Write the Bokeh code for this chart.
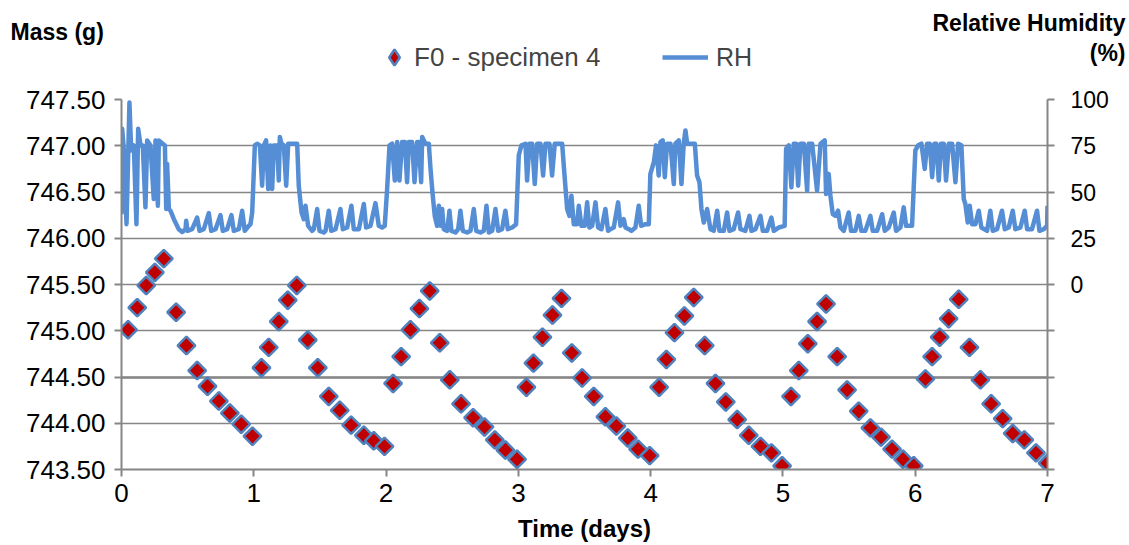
from bokeh.plotting import figure
from bokeh.layouts import column
from bokeh.models import (Range1d, LinearAxis, FixedTicker, NumeralTickFormatter,
                          CustomJSTickFormatter, Label, Legend, LegendItem, Grid,
                          ColumnDataSource)
from bokeh.embed import file_html
from bokeh.resources import INLINE
import math

# ---------------- data ----------------
mass_t = [0.050, 0.119, 0.187, 0.252, 0.320, 0.413, 0.491, 0.572, 0.650, 0.736, 0.819, 0.905, 0.990,
          1.058, 1.113, 1.189, 1.257, 1.325, 1.408, 1.484, 1.567, 1.650, 1.736, 1.832, 1.907, 1.988,
          2.053, 2.114, 2.184, 2.252, 2.330, 2.406, 2.482, 2.567, 2.658, 2.744, 2.822, 2.902, 2.990,
          3.061, 3.114, 3.182, 3.258, 3.326, 3.404, 3.482, 3.570, 3.658, 3.741, 3.827, 3.905, 3.993,
          4.064, 4.119, 4.180, 4.255, 4.326, 4.409, 4.490, 4.568, 4.654, 4.742, 4.830, 4.913, 4.994,
          5.061, 5.120, 5.188, 5.258, 5.326, 5.410, 5.485, 5.573, 5.661, 5.742, 5.825, 5.908, 5.989,
          6.077, 6.128, 6.185, 6.253, 6.329, 6.410, 6.493, 6.574, 6.661, 6.737, 6.825, 6.913, 7.000]
mass_g = [745.01, 745.25, 745.49, 745.63, 745.78, 745.20, 744.84, 744.57, 744.40, 744.24, 744.11, 743.99, 743.86,
          744.60, 744.82, 745.10, 745.33, 745.49, 744.90, 744.60, 744.29, 744.14, 743.98, 743.87, 743.81, 743.75,
          744.43, 744.72, 745.01, 745.24, 745.43, 744.87, 744.47, 744.21, 744.06, 743.96, 743.82, 743.71, 743.61,
          744.39, 744.65, 744.93, 745.17, 745.35, 744.76, 744.49, 744.29, 744.07, 743.97, 743.84, 743.72, 743.65,
          744.39, 744.69, 744.98, 745.16, 745.36, 744.84, 744.43, 744.23, 744.04, 743.87, 743.75, 743.68, 743.54,
          744.29, 744.57, 744.86, 745.10, 745.29, 744.72, 744.36, 744.13, 743.95, 743.85, 743.72, 743.61, 743.54,
          744.48, 744.72, 744.93, 745.13, 745.34, 744.82, 744.47, 744.21, 744.05, 743.89, 743.82, 743.68, 743.57]

# RH readings (time in days, RH in %), one list per day
rh_day0 = [(0.000, 38.0), (0.005, 84.2), (0.018, 72.5), (0.038, 32.6), (0.060, 98.4), (0.073, 72.5),
           (0.093, 75.2), (0.113, 32.6), (0.126, 84.2), (0.144, 75.2), (0.161, 75.2), (0.181, 41.7),
           (0.194, 77.9), (0.219, 75.2), (0.244, 46.2), (0.257, 77.9), (0.275, 42.6), (0.282, 77.9),
           (0.328, 75.2), (0.338, 40.8), (0.345, 65.2), (0.358, 40.8), (0.370, 39.9), (0.396, 35.3),
           (0.433, 29.9), (0.459, 28.4), (0.484, 29.9), (0.489, 34.4), (0.499, 29.0), (0.534, 29.9),
           (0.572, 36.2), (0.590, 29.0), (0.622, 29.9), (0.660, 38.6), (0.678, 29.0), (0.711, 29.9),
           (0.748, 37.5), (0.766, 29.0), (0.799, 29.9), (0.831, 37.5), (0.849, 29.0), (0.887, 29.9),
           (0.912, 39.9), (0.932, 29.0), (0.962, 31.7), (0.975, 32.6), (0.988, 38.9)]
rh_day1 = [(1.008, 75.2), (1.025, 76.1), (1.046, 75.2), (1.063, 53.4), (1.076, 75.2), (1.093, 77.9),
           (1.109, 51.6), (1.126, 75.2), (1.139, 51.6), (1.151, 75.2), (1.177, 75.2), (1.189, 56.2),
           (1.197, 79.7), (1.209, 76.1), (1.227, 75.2), (1.245, 53.4), (1.260, 76.1), (1.290, 76.1),
           (1.328, 76.1), (1.340, 53.4), (1.361, 38.9), (1.378, 35.3), (1.391, 42.6), (1.411, 31.7),
           (1.441, 29.0), (1.454, 29.9), (1.479, 40.8), (1.497, 29.0), (1.529, 28.1), (1.542, 29.0),
           (1.567, 39.9), (1.585, 29.0), (1.618, 29.9), (1.655, 40.8), (1.673, 29.9), (1.706, 30.8),
           (1.738, 42.6), (1.756, 29.9), (1.794, 29.9), (1.832, 43.5), (1.849, 30.8), (1.882, 31.7),
           (1.920, 44.0), (1.945, 31.7), (1.970, 30.8), (1.990, 31.7)]
rh_day2 = [(2.008, 51.6), (2.026, 75.2), (2.046, 76.1), (2.066, 56.2), (2.084, 77.0), (2.101, 56.2),
           (2.121, 77.0), (2.142, 77.0), (2.159, 55.3), (2.172, 77.0), (2.197, 77.0), (2.215, 55.3),
           (2.235, 77.0), (2.247, 77.0), (2.265, 55.3), (2.273, 79.7), (2.298, 76.1), (2.323, 76.1),
           (2.336, 62.5), (2.353, 48.0), (2.368, 37.1), (2.386, 31.7), (2.399, 42.6), (2.411, 31.7),
           (2.424, 40.8), (2.436, 29.9), (2.462, 29.0), (2.479, 39.9), (2.494, 29.0), (2.525, 28.1),
           (2.545, 29.9), (2.562, 39.9), (2.580, 29.0), (2.613, 28.1), (2.638, 29.0), (2.663, 40.8),
           (2.681, 29.0), (2.714, 28.1), (2.739, 29.0), (2.759, 42.6), (2.777, 28.1), (2.802, 29.0),
           (2.827, 40.8), (2.847, 29.0), (2.877, 29.9), (2.902, 39.9), (2.920, 29.9), (2.953, 30.8),
           (2.983, 32.6)]
rh_day3 = [(3.003, 69.7), (3.023, 75.2), (3.054, 76.1), (3.066, 56.2), (3.084, 76.1), (3.104, 76.1),
           (3.124, 54.3), (3.142, 76.1), (3.167, 76.1), (3.187, 58.9), (3.205, 76.1), (3.235, 76.1),
           (3.255, 58.9), (3.275, 76.1), (3.331, 76.1), (3.351, 57.1), (3.369, 40.8), (3.386, 37.1),
           (3.401, 48.0), (3.419, 32.6), (3.444, 32.6), (3.457, 42.6), (3.477, 31.7), (3.502, 31.7),
           (3.520, 44.4), (3.537, 30.8), (3.558, 31.7), (3.583, 44.4), (3.603, 30.8), (3.628, 29.9),
           (3.658, 40.8), (3.678, 29.0), (3.696, 29.9), (3.721, 30.8), (3.754, 44.4), (3.772, 31.7),
           (3.797, 35.3), (3.810, 30.8), (3.835, 29.9), (3.855, 29.0), (3.885, 30.8), (3.910, 42.6),
           (3.928, 31.7), (3.961, 32.6), (3.986, 32.6), (3.998, 59.8)]
rh_day4 = [(4.024, 66.1), (4.041, 75.2), (4.061, 58.9), (4.074, 77.0), (4.091, 77.9), (4.107, 58.0),
           (4.124, 76.1), (4.150, 76.1), (4.175, 54.3), (4.187, 76.1), (4.213, 77.9), (4.233, 54.3),
           (4.250, 76.1), (4.263, 83.3), (4.276, 76.1), (4.334, 76.1), (4.351, 58.9), (4.369, 55.3),
           (4.384, 40.8), (4.402, 33.5), (4.427, 40.8), (4.452, 29.9), (4.477, 29.0), (4.503, 39.9),
           (4.520, 29.0), (4.553, 29.0), (4.578, 38.9), (4.596, 29.0), (4.628, 29.9), (4.661, 38.9),
           (4.679, 29.9), (4.716, 29.0), (4.747, 37.1), (4.762, 29.0), (4.792, 29.9), (4.830, 37.1),
           (4.848, 29.0), (4.880, 29.0), (4.913, 36.2), (4.931, 29.0), (4.968, 30.8)]
rh_day5 = [(5.013, 31.7), (5.024, 73.4), (5.044, 75.2), (5.064, 52.5), (5.082, 76.1), (5.100, 76.1),
           (5.115, 53.4), (5.132, 76.1), (5.158, 76.1), (5.183, 50.7), (5.195, 76.1), (5.221, 76.1),
           (5.258, 50.7), (5.284, 76.1), (5.316, 77.9), (5.326, 48.9), (5.346, 59.8), (5.359, 48.0),
           (5.377, 38.0), (5.397, 37.1), (5.417, 39.9), (5.435, 30.8), (5.460, 29.0), (5.497, 38.9),
           (5.515, 29.0), (5.548, 29.0), (5.573, 37.1), (5.593, 29.0), (5.623, 29.0), (5.661, 37.1),
           (5.679, 29.0), (5.712, 29.0), (5.750, 38.0), (5.770, 29.0), (5.800, 30.8), (5.838, 38.9),
           (5.855, 29.0), (5.888, 30.8), (5.913, 41.7), (5.931, 31.7), (5.976, 31.7)]
rh_day6 = [(6.001, 72.5), (6.022, 75.2), (6.047, 76.1), (6.072, 62.5), (6.090, 76.1), (6.110, 76.1),
           (6.128, 58.0), (6.145, 76.1), (6.160, 76.1), (6.178, 56.2), (6.195, 76.1), (6.216, 76.1),
           (6.233, 56.2), (6.254, 76.1), (6.279, 76.1), (6.304, 55.3), (6.324, 76.1), (6.349, 75.2),
           (6.367, 46.2), (6.379, 43.5), (6.397, 33.5), (6.412, 42.6), (6.430, 32.6), (6.455, 32.6),
           (6.480, 39.9), (6.500, 30.8), (6.543, 29.0), (6.568, 39.9), (6.586, 29.0), (6.619, 29.9),
           (6.656, 39.9), (6.677, 29.9), (6.707, 30.8), (6.737, 39.9), (6.757, 29.9), (6.795, 30.8),
           (6.828, 39.9), (6.846, 29.9), (6.883, 29.9), (6.921, 39.9), (6.939, 29.0), (6.972, 29.9),
           (6.997, 31.7), (7.000, 42.6)]

x_ticks = [0, 1, 2, 3, 4, 5, 6, 7]
mass_ticks = [743.5, 744.0, 744.5, 745.0, 745.5, 746.0, 746.5, 747.0, 747.5]
rh_ticks = [-100, -75, -50, -25, 0, 25, 50, 75, 100]

series_mass = "F0 - specimen 4"
series_rh = "RH"
title_left = "Mass (g)"
title_right_1 = "Relative Humidity"
title_right_2 = "(%)"
title_x = "Time (days)"

# ---------------- styling ----------------
FONT = "Liberation Sans"
NARROW = "'Liberation Sans Narrow', 'Liberation Sans', sans-serif"
GRAY = "#868686"
RH_COLOR = "#558ED5"
MK_FILL = "#C00000"
MK_LINE = "#4F81BD"
MK_SIZE = 12.5
MK_LW = 2.5

W = 1129
HEAD_H = 80
MAIN_H = 545 - HEAD_H

rh_all = rh_day0 + rh_day1 + rh_day2 + rh_day3 + rh_day4 + rh_day5 + rh_day6
rh_src = ColumnDataSource(dict(t=[a for a, b in rh_all], rh=[b for a, b in rh_all]))
mass_src = ColumnDataSource(dict(t=mass_t, m=mass_g))

# ---------------- header (titles + legend) ----------------
head = figure(width=W, height=HEAD_H, output_backend="svg", toolbar_location=None,
              x_range=Range1d(0, W), y_range=Range1d(0, HEAD_H),
              x_axis_type=None, y_axis_type=None,
              min_border_left=0, min_border_right=0, min_border_top=0, min_border_bottom=0)
head.frame_align = False
head.outline_line_color = None
head.xgrid.visible = False
head.ygrid.visible = False
head.border_fill_color = "white"
# legend proxies: the real series drawn on a range that is out of view of the header
head.extra_y_ranges = {"proxy": Range1d(-2000, -1000), "proxy_rh": Range1d(-2000, -1000)}
lg_m = head.scatter("t", "m", source=mass_src, y_range_name="proxy", marker="diamond",
                    size=MK_SIZE, fill_color=MK_FILL, line_color=MK_LINE, line_width=MK_LW)
lg_l = head.line("t", "rh", source=rh_src, y_range_name="proxy_rh",
                 line_color=RH_COLOR, line_width=4.5)

leg1 = Legend(items=[LegendItem(label=series_mass, renderers=[lg_m])], location=(374, 3),
              glyph_width=40, glyph_height=40, label_height=20, label_standoff=0,
              padding=0, margin=0, border_line_color=None, background_fill_alpha=0,
              label_text_font=FONT, label_text_font_size="26px")
leg2 = Legend(items=[LegendItem(label=series_rh, renderers=[lg_l])], location=(662, 3),
              glyph_width=46, glyph_height=40, label_height=20, label_standoff=8,
              padding=0, margin=0, border_line_color=None, background_fill_alpha=0,
              label_text_font=FONT, label_text_font_size="25px")
head.add_layout(leg1)
head.add_layout(leg2)

head.add_layout(Label(x=10, y=HEAD_H - 31, x_units="screen", y_units="screen", text=title_left,
                      text_font=FONT, text_font_size="23px", text_font_style="bold",
                      text_align="left", text_baseline="middle", text_color="black"))
head.add_layout(Label(x=1125, y=HEAD_H - 22, x_units="screen", y_units="screen", text=title_right_1,
                      text_font=FONT, text_font_size="23px", text_font_style="bold",
                      text_align="right", text_baseline="middle", text_color="black"))
head.add_layout(Label(x=1125, y=HEAD_H - 52, x_units="screen", y_units="screen", text=title_right_2,
                      text_font=FONT, text_font_size="23px", text_font_style="bold",
                      text_align="right", text_baseline="middle", text_color="black"))

# ---------------- main plot ----------------
p = figure(width=W, height=MAIN_H, output_backend="svg", toolbar_location=None,
           x_range=Range1d(0, 7), y_range=Range1d(743.5, 747.5),
           min_border_left=121, min_border_right=82, min_border_top=99 - HEAD_H,
           min_border_bottom=76)
p.frame_align = False
p.extra_y_ranges = {"rh": Range1d(-100, 100)}
p.outline_line_color = None
p.border_fill_color = "white"

p.xgrid.visible = False
p.ygrid.ticker = FixedTicker(ticks=mass_ticks)
p.ygrid.grid_line_color = GRAY
p.ygrid.grid_line_width = 1.5
p.add_layout(Grid(dimension=1, ticker=FixedTicker(ticks=[-50]), y_range_name="rh",
                  grid_line_color=GRAY, grid_line_width=2.5))


def style_axis(ax, font, size):
    ax.axis_line_color = GRAY
    ax.axis_line_width = 2
    ax.major_tick_line_color = GRAY
    ax.major_tick_line_width = 2
    ax.major_tick_in = 0
    ax.major_tick_out = 7
    ax.minor_tick_line_color = None
    ax.major_label_text_font = font
    ax.major_label_text_font_size = size
    ax.major_label_text_color = "black"


xa = p.xaxis[0]
xa.ticker = FixedTicker(ticks=x_ticks)
style_axis(xa, NARROW, "26px")
xa.major_label_standoff = 7
xa.axis_label = title_x
xa.axis_label_text_font = FONT
xa.axis_label_text_font_size = "24px"
xa.axis_label_text_font_style = "bold"
xa.axis_label_text_color = "black"
xa.axis_label_standoff = 10

ya = p.yaxis[0]
ya.ticker = FixedTicker(ticks=mass_ticks)
ya.formatter = NumeralTickFormatter(format="0.00")
style_axis(ya, FONT, "26px")
ya.major_label_standoff = 9

ra = LinearAxis(y_range_name="rh", ticker=FixedTicker(ticks=rh_ticks),
                formatter=CustomJSTickFormatter(code="return tick < 0 ? '' : tick.toFixed(0);"))
style_axis(ra, FONT, "23px")
ra.major_label_standoff = 16
p.add_layout(ra, "right")

p.line("t", "rh", source=rh_src, y_range_name="rh", line_color=RH_COLOR,
       line_width=4.5, line_join="round")
p.scatter("t", "m", source=mass_src, marker="square", angle=math.pi / 4, size=MK_SIZE,
          fill_color=MK_FILL, line_color=MK_LINE, line_width=MK_LW)

layout = column(head, p, spacing=0)
open("out.html", "w").write(file_html(layout, INLINE))
